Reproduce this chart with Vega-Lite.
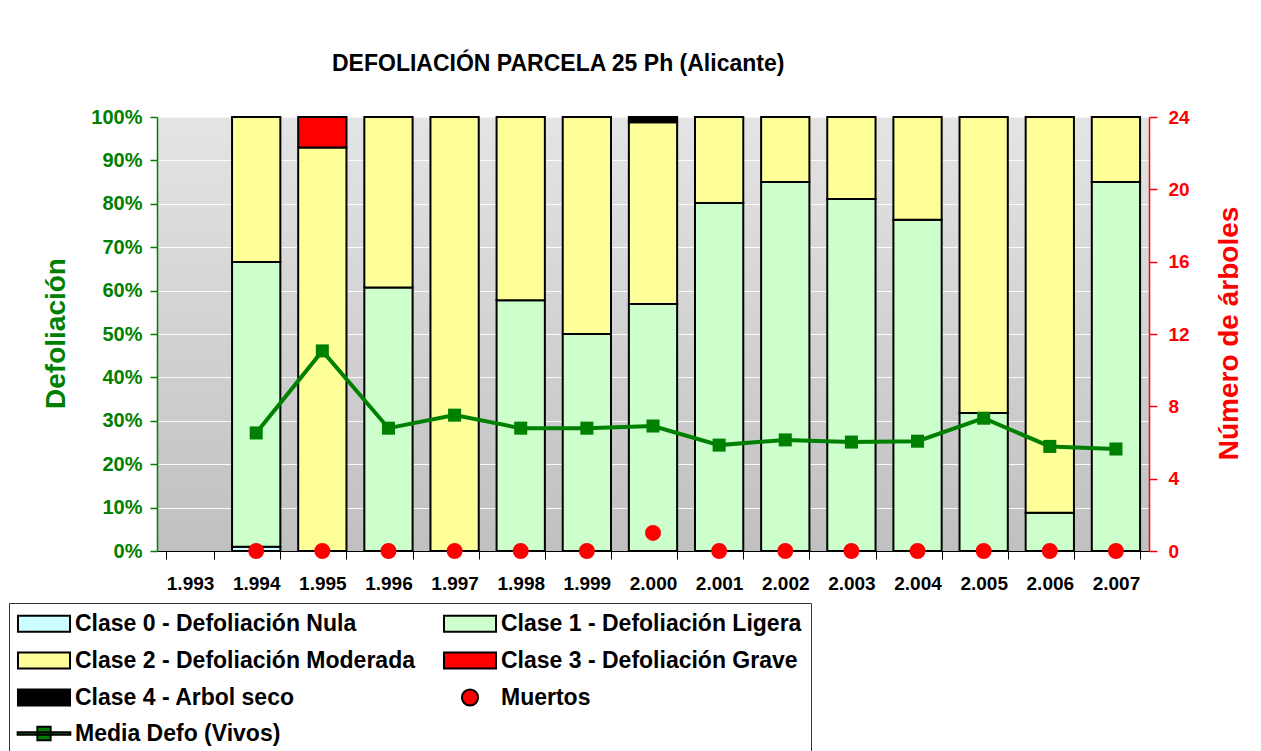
{
  "$schema": "https://vega.github.io/schema/vega-lite/v6.json",
  "width": 992,
  "height": 434,
  "autosize": {"type": "none"},
  "padding": {"left": 157, "top": 117, "right": 112, "bottom": 200},
  "background": "white",
  "title": {
    "text": "DEFOLIACIÓN PARCELA 25 Ph (Alicante)",
    "anchor": "start",
    "frame": "group",
    "dx": 175,
    "offset": 31,
    "font": "Liberation Sans",
    "fontSize": 23,
    "fontWeight": "bold",
    "color": "black"
  },
  "datasets": {
    "barras": [
      {"anio": "1.994", "clase": "Clase 0 - Defoliación Nula", "orden": 0, "valor": 0.01},
      {"anio": "1.994", "clase": "Clase 1 - Defoliación Ligera", "orden": 1, "valor": 0.656},
      {"anio": "1.994", "clase": "Clase 2 - Defoliación Moderada", "orden": 2, "valor": 0.334},
      {"anio": "1.995", "clase": "Clase 2 - Defoliación Moderada", "orden": 2, "valor": 0.93},
      {"anio": "1.995", "clase": "Clase 3 - Defoliación Grave", "orden": 3, "valor": 0.07},
      {"anio": "1.996", "clase": "Clase 1 - Defoliación Ligera", "orden": 1, "valor": 0.607},
      {"anio": "1.996", "clase": "Clase 2 - Defoliación Moderada", "orden": 2, "valor": 0.393},
      {"anio": "1.997", "clase": "Clase 2 - Defoliación Moderada", "orden": 2, "valor": 1.0},
      {"anio": "1.998", "clase": "Clase 1 - Defoliación Ligera", "orden": 1, "valor": 0.578},
      {"anio": "1.998", "clase": "Clase 2 - Defoliación Moderada", "orden": 2, "valor": 0.422},
      {"anio": "1.999", "clase": "Clase 1 - Defoliación Ligera", "orden": 1, "valor": 0.5},
      {"anio": "1.999", "clase": "Clase 2 - Defoliación Moderada", "orden": 2, "valor": 0.5},
      {"anio": "2.000", "clase": "Clase 1 - Defoliación Ligera", "orden": 1, "valor": 0.569},
      {"anio": "2.000", "clase": "Clase 2 - Defoliación Moderada", "orden": 2, "valor": 0.419},
      {"anio": "2.000", "clase": "Clase 4 - Arbol seco", "orden": 4, "valor": 0.012},
      {"anio": "2.001", "clase": "Clase 1 - Defoliación Ligera", "orden": 1, "valor": 0.802},
      {"anio": "2.001", "clase": "Clase 2 - Defoliación Moderada", "orden": 2, "valor": 0.198},
      {"anio": "2.002", "clase": "Clase 1 - Defoliación Ligera", "orden": 1, "valor": 0.85},
      {"anio": "2.002", "clase": "Clase 2 - Defoliación Moderada", "orden": 2, "valor": 0.15},
      {"anio": "2.003", "clase": "Clase 1 - Defoliación Ligera", "orden": 1, "valor": 0.811},
      {"anio": "2.003", "clase": "Clase 2 - Defoliación Moderada", "orden": 2, "valor": 0.189},
      {"anio": "2.004", "clase": "Clase 1 - Defoliación Ligera", "orden": 1, "valor": 0.763},
      {"anio": "2.004", "clase": "Clase 2 - Defoliación Moderada", "orden": 2, "valor": 0.237},
      {"anio": "2.005", "clase": "Clase 1 - Defoliación Ligera", "orden": 1, "valor": 0.318},
      {"anio": "2.005", "clase": "Clase 2 - Defoliación Moderada", "orden": 2, "valor": 0.682},
      {"anio": "2.006", "clase": "Clase 1 - Defoliación Ligera", "orden": 1, "valor": 0.088},
      {"anio": "2.006", "clase": "Clase 2 - Defoliación Moderada", "orden": 2, "valor": 0.912},
      {"anio": "2.007", "clase": "Clase 1 - Defoliación Ligera", "orden": 1, "valor": 0.85},
      {"anio": "2.007", "clase": "Clase 2 - Defoliación Moderada", "orden": 2, "valor": 0.15}
    ],
    "media": [
      {"anio": "1.994", "media": 0.272},
      {"anio": "1.995", "media": 0.461},
      {"anio": "1.996", "media": 0.283},
      {"anio": "1.997", "media": 0.313},
      {"anio": "1.998", "media": 0.283},
      {"anio": "1.999", "media": 0.283},
      {"anio": "2.000", "media": 0.288},
      {"anio": "2.001", "media": 0.244},
      {"anio": "2.002", "media": 0.256},
      {"anio": "2.003", "media": 0.251},
      {"anio": "2.004", "media": 0.253},
      {"anio": "2.005", "media": 0.306},
      {"anio": "2.006", "media": 0.241},
      {"anio": "2.007", "media": 0.235}
    ],
    "muertos": [
      {"anio": "1.994", "muertos": 0},
      {"anio": "1.995", "muertos": 0},
      {"anio": "1.996", "muertos": 0},
      {"anio": "1.997", "muertos": 0},
      {"anio": "1.998", "muertos": 0},
      {"anio": "1.999", "muertos": 0},
      {"anio": "2.000", "muertos": 1},
      {"anio": "2.001", "muertos": 0},
      {"anio": "2.002", "muertos": 0},
      {"anio": "2.003", "muertos": 0},
      {"anio": "2.004", "muertos": 0},
      {"anio": "2.005", "muertos": 0},
      {"anio": "2.006", "muertos": 0},
      {"anio": "2.007", "muertos": 0}
    ]
  },
  "encoding": {
    "x": {
      "field": "anio",
      "type": "nominal",
      "scale": {
        "domain": ["1.993", "1.994", "1.995", "1.996", "1.997", "1.998", "1.999", "2.000", "2.001", "2.002", "2.003", "2.004", "2.005", "2.006", "2.007"],
        "paddingInner": 0.27,
        "paddingOuter": 0.135
      },
      "axis": {
        "title": null,
        "labelAngle": 0,
        "tickBand": "extent",
        "tickColor": "#000000",
        "tickSize": 8,
        "domainColor": "#000000",
        "domainWidth": 1,
        "labelFontSize": 19,
        "labelColor": "#000000",
        "labelPadding": 15,
        "grid": false
      }
    }
  },
  "layer": [
    {
      "layer": [
        {
          "data": {"name": "barras"},
          "mark": {"type": "bar", "stroke": "#000000", "strokeWidth": 2},
          "encoding": {
            "y": {
              "field": "valor",
              "type": "quantitative",
              "stack": "zero",
              "title": "Defoliación",
              "scale": {"domain": [0, 1], "nice": false},
              "axis": {
                "orient": "left",
                "format": ".0%",
                "values": [0, 0.1, 0.2, 0.3, 0.4, 0.5, 0.6, 0.7, 0.8, 0.9, 1],
                "labelColor": "#008000",
                "labelFontSize": 20,
                "labelPadding": 8,
                "tickColor": "#008000",
                "tickSize": 7,
                "tickWidth": 1.5,
                "domainColor": "#008000",
                "domainWidth": 1.5,
                "titleColor": "#008000",
                "titleFontSize": 28,
                "titleAngle": 270,
                "titleX": -93,
                "titleY": 216,
                "titleBaseline": "alphabetic",
                "grid": true,
                "gridColor": "#ffffff",
                "gridOpacity": 0.9,
                "gridWidth": 1
              }
            },
            "color": {
              "field": "clase",
              "type": "nominal",
              "scale": {
                "domain": ["Clase 0 - Defoliación Nula", "Clase 1 - Defoliación Ligera", "Clase 2 - Defoliación Moderada", "Clase 3 - Defoliación Grave", "Clase 4 - Arbol seco", "Muertos", "Media Defo (Vivos)"],
                "range": ["#CCFFFF", "#CCFFCC", "#FFFF99", "#FF0000", "#000000", "#FF0000", "#008000"]
              },
              "legend": {
                "title": null,
                "orient": "none",
                "direction": "horizontal",
                "legendX": -148,
                "legendY": 486,
                "columns": 2,
                "padding": 9,
                "rowPadding": 12,
                "columnPadding": 24,
                "strokeColor": "#333333",
                "fillColor": "#ffffff",
                "labelFont": "Liberation Sans",
                "labelFontSize": 23,
                "labelFontWeight": "bold",
                "labelColor": "#000000",
                "labelLimit": 0,
                "labelOffset": 19.5,
                "symbolOffset": 14.5,
                "symbolSize": 289,
                "symbolStrokeWidth": 2,
                "symbolType": {"expr": "datum.value === 'Muertos' ? 'M-0.95,0A0.95,0.95 0 1,0 0.95,0A0.95,0.95 0 1,0 -0.95,0Z' : (datum.value === 'Media Defo (Vivos)' ? 'M-3.1,-0.15H3.1V0.15H-3.1ZM-0.78,-0.78H0.78V0.78H-0.78Z' : 'M-3.06,-0.95H3.06V0.95H-3.06Z')"},
                "encode": {
                  "symbols": {
                    "fill": {"value": {"expr": "scale('color', datum.value)"}},
                    "opacity": {"value": 1},
                    "fillOpacity": {"value": 1}
                  }
                }
              }
            },
            "order": {"field": "orden", "type": "quantitative"}
          }
        },
        {
          "data": {"name": "media"},
          "mark": {"type": "line", "strokeWidth": 4, "color": "#008000", "point": {"shape": "square", "size": 170, "filled": true, "opacity": 1, "color": "#008000"}},
          "encoding": {
            "y": {"field": "media", "type": "quantitative", "title": "Defoliación"}
          }
        }
      ]
    },
    {
      "data": {"name": "muertos"},
      "mark": {"type": "circle", "size": 254, "opacity": 1, "color": "#FF0000"},
      "encoding": {
        "y": {
          "field": "muertos",
          "type": "quantitative",
          "title": "Número de árboles",
          "scale": {"domain": [0, 24], "nice": false},
          "axis": {
            "orient": "right",
            "values": [0, 4, 8, 12, 16, 20, 24],
            "labelColor": "#FF0000",
            "labelFontSize": 19,
            "labelPadding": 11,
            "tickColor": "#FF0000",
            "tickSize": 8,
            "tickWidth": 1.5,
            "domainColor": "#FF0000",
            "domainWidth": 1.5,
            "titleColor": "#FF0000",
            "titleFontSize": 28,
            "titleAngle": 270,
            "titleX": 88,
            "titleY": 216,
            "titleBaseline": "alphabetic",
            "grid": false
          }
        }
      }
    }
  ],
  "resolve": {"scale": {"y": "independent"}},
  "config": {
    "view": {
      "stroke": "#808080",
      "strokeWidth": 1,
      "fill": {
        "gradient": "linear",
        "x1": 0, "y1": 0, "x2": 0, "y2": 1,
        "stops": [
          {"offset": 0, "color": "#e4e4e4"},
          {"offset": 1, "color": "#c0c0c0"}
        ]
      }
    },
    "axis": {
      "labelFont": "Liberation Sans",
      "labelFontWeight": "bold",
      "titleFont": "Liberation Sans",
      "titleFontWeight": "bold",
      "labelOverlap": false
    }
  }
}
